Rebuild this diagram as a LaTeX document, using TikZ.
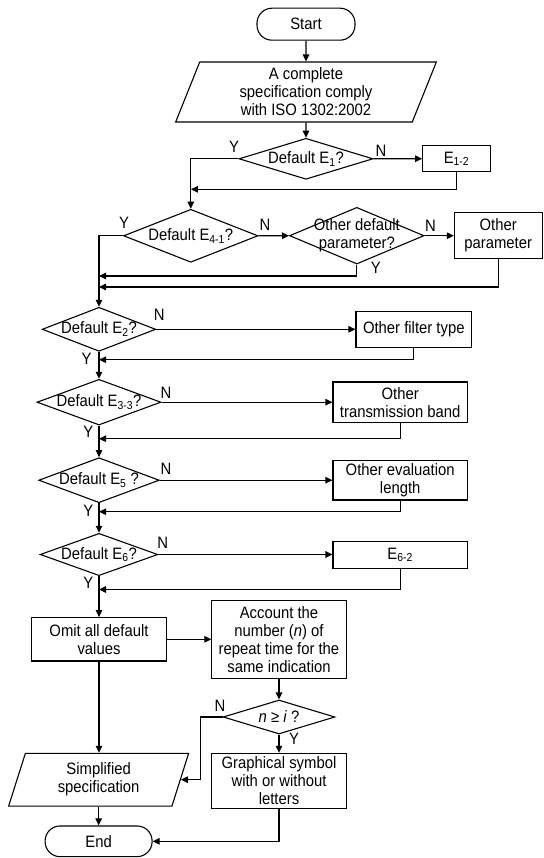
\documentclass[tikz,border=0pt]{standalone}
\usepackage{fontspec}
\setmainfont{Liberation Sans}[FakeStretch=0.9]
\usetikzlibrary{shapes.geometric,arrows.meta}
\begin{document}
\begin{tikzpicture}[x=1pt,y=-1pt,
  font=\fontsize{16.5}{18}\selectfont,
  line width=1.1pt,
  >={Triangle[length=7pt,width=6.5pt]},
  box/.style={draw, rectangle, inner sep=0pt, align=center},
  dia/.style={draw, diamond, inner sep=0pt},
  term/.style={draw, rectangle, rounded corners=15pt, inner sep=0pt},
  io/.style={draw, trapezium, trapezium left angle=63.4, trapezium right angle=116.6,
    trapezium stretches body, inner sep=0pt, align=center},
  lab/.style={inner sep=0pt, align=center},
  yn/.style={inner sep=0pt}]
\useasboundingbox (0,0) rectangle (543,858);

% nodes
\node[term, minimum width=98, minimum height=32] (start) at (306,24.2) {Start};
\node[io, minimum width=260.7, minimum height=60] (spec) at (306,92) {A complete\\specification comply\\with ISO 1302:2002};
\node[dia, minimum width=134, minimum height=41, label={[lab]center:Default E\textsubscript{1}?}] (d1) at (306,158.8) {};
\node[box, minimum width=67.5, minimum height=26] (e12) at (456.5,158.7) {E\textsubscript{1-2}};
\node[dia, minimum width=134.4, minimum height=53, label={[lab]center:Default E\textsubscript{4-1}?}] (d41) at (190.8,235.8) {};
\node[dia, minimum width=134.5, minimum height=56.7, label={[lab]center:Other default\\parameter?}] (dodp) at (356.8,235.7) {};
\node[box, minimum width=87.7, minimum height=46] (op) at (498.2,235.7) {Other\\parameter};
\node[dia, minimum width=113.6, minimum height=44, label={[lab]center:Default E\textsubscript{2}?}] (d2) at (99,329.3) {};
\node[box, minimum width=115.6, minimum height=36] (oft) at (413.8,329.3) {Other filter type};
\node[dia, minimum width=124, minimum height=45.7, label={[lab]center:Default E\textsubscript{3-3}?}] (d33) at (99,402.2) {};
\node[box, minimum width=134.4, minimum height=40.7] (otb) at (400.2,402.3) {Other\\transmission band};
\node[dia, minimum width=120.5, minimum height=45, label={[lab]center:Default E\textsubscript{5} ?}] (d5) at (99,480.2) {};
\node[box, minimum width=134.4, minimum height=39.3] (oel) at (400.2,480.3) {Other evaluation\\length};
\node[dia, minimum width=117.7, minimum height=42.3, label={[lab]center:Default E\textsubscript{6}?}] (d6) at (99,554.5) {};
\node[box, minimum width=134.4, minimum height=27.3] (e62) at (400.2,554.7) {E\textsubscript{6-2}};
\node[box, minimum width=134.3, minimum height=43.3] (omit) at (99,639.3) {Omit all default\\values};
\node[box, minimum width=134.3, minimum height=78] (acc) at (279,639.7) {Account the\\number (\textit{n}) of\\repeat time for the\\same indication};
\node[dia, minimum width=111.8, minimum height=34, label={[lab]center:\textit{n} ≥ \textit{i} ?}] (dn) at (279,717) {};
\node[io, minimum width=180, minimum height=52.7] (simp) at (98.65,779.7) {Simplified\\specification};
\node[box, minimum width=134.3, minimum height=55.3] (gs) at (279,781) {Graphical symbol\\with or without\\letters};
\node[term, minimum width=107, minimum height=30.7] (end) at (98.6,841.3) {End};

% junction coordinates
\coordinate (j1) at (190.8,189.3);
\coordinate (j2) at (99,276);
\coordinate (j3) at (99,287);
\coordinate (j4) at (99,359.7);
\coordinate (j5) at (99,438.7);
\coordinate (j6) at (99,511.7);
\coordinate (j7) at (99,589.5);
\coordinate (k1) at (200.7,717);

% connectors
\draw[->] (start.south) -- (spec.north);
\draw[->] (spec.south) -- (d1.north);
\draw[->] (d1.east) -- (e12.west);
\draw[->] (d1.west) -| (d41.north);
\draw[->] (e12.south) |- (j1);
\draw[->] (d41.east) -- (dodp.west);
\draw[->] (dodp.east) -- (op.west);
\draw[->] (d41.west) -| (d2.north);
\draw[->] (dodp.south) |- (j2);
\draw[->] (op.south) |- (j3);
\draw[->] (d2.east) -- (oft.west);
\draw[->] (d2.south) -- (d33.north);
\draw[->] (oft.south) |- (j4);
\draw[->] (d33.east) -- (d33.east -| otb.west);
\draw[->] (d33.south) -- (d5.north);
\draw[->] (otb.south) |- (j5);
\draw[->] (d5.east) -- (d5.east -| oel.west);
\draw[->] (d5.south) -- (d6.north);
\draw[->] (oel.south) |- (j6);
\draw[->] (d6.east) -- (d6.east -| e62.west);
\draw[->] (d6.south) -- (omit.north);
\draw[->] (e62.south) |- (j7);
\draw[->] (omit.east) -- (omit.east -| acc.west);
\draw[->] (acc.south) -- (dn.north);
\draw[->] (dn.south) -- (gs.north);
\draw[->] (dn.west) -- (k1) |- (simp.east);
\draw[->] (omit.south) -- (omit.south |- simp.north);
\draw[->] (simp.south) -- (simp.south |- end.north);
\draw[->] (gs.south) |- (end.east);

% Y / N labels
\node[yn] (y1) at (234,146.7) {Y};
\node[yn] (n1) at (381,150.7) {N};
\node[yn] (y2) at (124,222.7) {Y};
\node[yn] (n2) at (265,225) {N};
\node[yn] (n3) at (430.4,226) {N};
\node[yn] (y3) at (375.7,268.3) {Y};
\node[yn] (n4) at (159.3,315) {N};
\node[yn] (y4) at (86.6,359) {Y};
\node[yn] (n5) at (166,392.7) {N};
\node[yn] (y5) at (88.3,431.7) {Y};
\node[yn] (n6) at (166,469) {N};
\node[yn] (y6) at (88.3,510.7) {Y};
\node[yn] (n7) at (162.7,543.3) {N};
\node[yn] (y7) at (88.3,583) {Y};
\node[yn] (n8) at (220,706) {N};
\node[yn] (y8) at (294,739.3) {Y};
\end{tikzpicture}
\end{document}
